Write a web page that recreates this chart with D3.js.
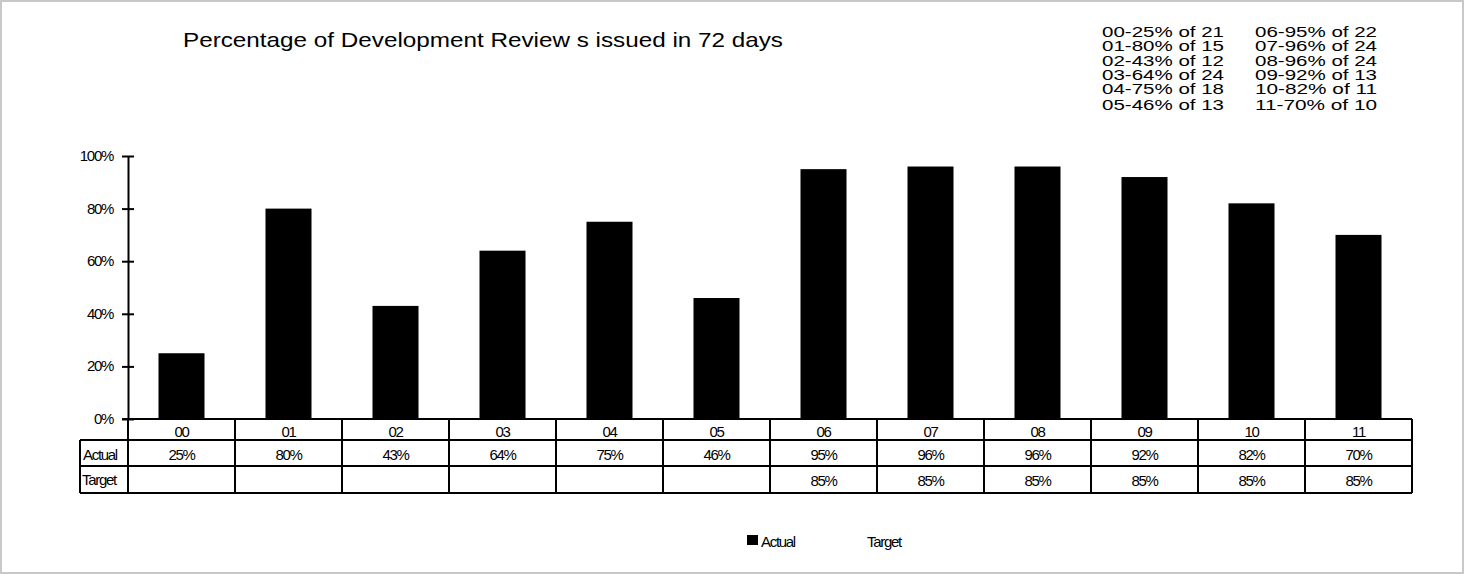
<!DOCTYPE html>
<meta charset="utf-8">
<script src="https://d3js.org/d3.v7.min.js"></script>
<style>
  body { margin: 0; background: #fff; }
  text { font-family: "Liberation Sans", Arial, sans-serif; fill: #000; }
</style>
<div id="chart"></div>
<script>
// data
var categories = ["00", "01", "02", "03", "04", "05", "06", "07", "08", "09", "10", "11"];
var actual = [25, 80, 43, 64, 75, 46, 95, 96, 96, 92, 82, 70];
var target = [null, null, null, null, null, null, 85, 85, 85, 85, 85, 85];
var counts = [21, 15, 12, 24, 18, 13, 22, 24, 24, 13, 11, 10];
var yTicks = [0, 20, 40, 60, 80, 100];

var W = 1464, H = 574;
var plotL = 128, plotR = 1412, plotT = 156, plotB = 419;

var svg = d3.select("#chart").append("svg")
    .attr("width", W).attr("height", H);

// outer frame
svg.append("rect")
    .attr("x", 1).attr("y", 1).attr("width", W - 2).attr("height", H - 2)
    .attr("fill", "#fff").attr("stroke", "#c8c8c8").attr("stroke-width", 2);

var x = d3.scaleBand().domain(categories).range([plotL, plotR]).paddingInner(0).paddingOuter(0);
var y = d3.scaleLinear().domain([0, 100]).range([plotB, plotT]);

// title
svg.append("text")
    .attr("x", 183).attr("y", 47)
    .attr("textLength", 600).attr("lengthAdjust", "spacingAndGlyphs")
    .style("font-size", "21px")
    .text("Percentage of Development Review s issued in 72 days");

// summary block, two columns
var summary = categories.map(function (c, i) { return c + "-" + actual[i] + "% of " + counts[i]; });
var sum = svg.append("g").style("font-size", "15.5px");
summary.forEach(function (s, i) {
    var col = Math.floor(i / 6), row = i % 6;
    sum.append("text")
        .attr("x", col === 0 ? 1102 : 1255)
        .attr("y", 37 + row * 14.3 + (row === 5 ? 1.5 : 0))
        .attr("textLength", 122).attr("lengthAdjust", "spacingAndGlyphs")
        .text(s);
});

// bars
svg.selectAll("rect.bar")
    .data(actual).enter().append("rect")
    .attr("class", "bar")
    .attr("x", function (d, i) { return x(categories[i]) + x.bandwidth() * 0.285; })
    .attr("width", x.bandwidth() * 0.43)
    .attr("y", function (d) { return y(d); })
    .attr("height", function (d) { return plotB - y(d); })
    .attr("fill", "#000");

// y axis
var yAxis = d3.axisLeft(y).tickValues(yTicks).tickSizeInner(6).tickSizeOuter(0)
    .tickFormat(function (d) { return d + "%"; });
var ga = svg.append("g").attr("transform", "translate(" + plotL + ",0)").call(yAxis);
ga.select(".domain").attr("stroke", "#000").attr("stroke-width", 2);
ga.selectAll(".tick line").attr("stroke", "#000").attr("stroke-width", 2).attr("x2", 6).attr("x1", -6);
ga.selectAll(".tick text")
    .attr("x", -15)
    .attr("dy", "0.3em")
    .style("font-size", "15px")
    .style("letter-spacing", "-1.3px")
    .style("font-family", "'Liberation Sans', Arial, sans-serif");

// data table
var rowCat = [plotB, 440], rowAct = [440, 466], rowTar = [466, 493];
var tbl = svg.append("g");
var line = function (x1, y1, x2, y2) {
    tbl.append("line").attr("x1", x1).attr("y1", y1).attr("x2", x2).attr("y2", y2)
        .attr("stroke", "#000").attr("stroke-width", 2);
};
line(plotL - 6, plotB, plotR, plotB);
line(80, rowAct[0], plotR, rowAct[0]);
line(80, rowTar[0], plotR, rowTar[0]);
line(80, rowTar[1], plotR, rowTar[1]);
line(80, rowAct[0], 80, rowTar[1]);
line(plotL, plotB, plotL, rowTar[1]);
categories.forEach(function (c) {
    line(x(c) + x.bandwidth(), plotB, x(c) + x.bandwidth(), rowTar[1]);
});

var cellText = function (txt, cx, baseline) {
    tbl.append("text")
        .attr("x", cx).attr("y", baseline)
        .attr("text-anchor", "middle")
        .style("font-size", "15px")
        .style("letter-spacing", "-1.3px")
        .text(txt);
};
categories.forEach(function (c, i) {
    var cx = x(c) + x.bandwidth() / 2;
    cellText(c, cx, 437);
    cellText(actual[i] + "%", cx, 460);
    if (target[i] != null) cellText(target[i] + "%", cx, 486);
});
tbl.append("text").attr("x", 83).attr("y", 460).style("font-size", "15px")
    .style("letter-spacing", "-1.3px").text("Actual");
tbl.append("text").attr("x", 82).attr("y", 485).style("font-size", "15px")
    .style("letter-spacing", "-1.3px").text("Target");

// legend
var lg = svg.append("g");
lg.append("rect").attr("x", 747).attr("y", 535).attr("width", 11).attr("height", 10).attr("fill", "#000");
lg.append("text").attr("x", 761).attr("y", 547).style("font-size", "15px")
    .style("letter-spacing", "-1.3px").text("Actual");
lg.append("text").attr("x", 867).attr("y", 547).style("font-size", "15px")
    .style("letter-spacing", "-1.3px").text("Target");
</script>
